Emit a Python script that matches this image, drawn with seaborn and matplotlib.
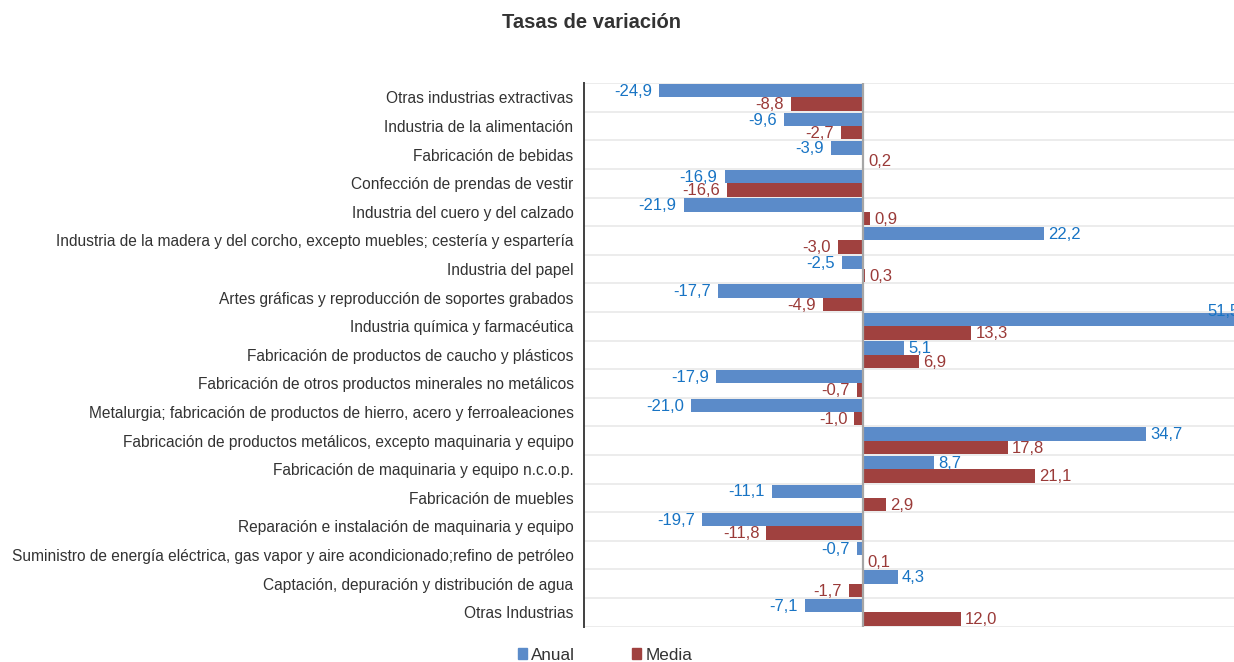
import matplotlib
matplotlib.use("Agg")
import matplotlib.pyplot as plt
import matplotlib.patches as mpatches
import seaborn as sns
import pandas as pd

categorias = [
    "Otras industrias extractivas",
    "Industria de la alimentación",
    "Fabricación de bebidas",
    "Confección de prendas de vestir",
    "Industria del cuero y del calzado",
    "Industria de la madera y del corcho, excepto muebles; cestería y espartería",
    "Industria del papel",
    "Artes gráficas y reproducción de soportes grabados",
    "Industria química y farmacéutica",
    "Fabricación de productos de caucho y plásticos",
    "Fabricación de otros productos minerales no metálicos",
    "Metalurgia; fabricación de productos de hierro, acero y ferroaleaciones",
    "Fabricación de productos metálicos, excepto maquinaria y equipo",
    "Fabricación de maquinaria y equipo n.c.o.p.",
    "Fabricación de muebles",
    "Reparación e instalación de maquinaria y equipo",
    "Suministro de energía eléctrica, gas vapor y aire acondicionado;refino de petróleo",
    "Captación, depuración y distribución de agua",
    "Otras Industrias",
]
anual = [-24.9, -9.6, -3.9, -16.9, -21.9, 22.2, -2.5, -17.7, 51.5, 5.1,
         -17.9, -21.0, 34.7, 8.7, -11.1, -19.7, -0.7, 4.3, -7.1]
media = [-8.8, -2.7, 0.2, -16.6, 0.9, -3.0, 0.3, -4.9, 13.3, 6.9,
         -0.7, -1.0, 17.8, 21.1, 2.9, -11.8, 0.1, -1.7, 12.0]
series = ["Anual", "Media"]

bar_colors = {"Anual": "#5B8BC9", "Media": "#A0413F"}
label_colors = {"Anual": "#1874C4", "Media": "#9A3A38"}
text_color = "#333333"

df = pd.DataFrame({
    "Sector": categorias * 2,
    "Serie": [series[0]] * len(categorias) + [series[1]] * len(categorias),
    "Valor": anual + media,
})

sns.set_theme(style="white")
plt.rcParams["font.family"] = ["Liberation Sans", "DejaVu Sans"]

fig = plt.figure(figsize=(12.34, 6.62), dpi=100)
ax = fig.add_axes([584 / 1234, 1 - 626.6 / 662, 1 - 584 / 1234, (626.6 - 83.1) / 662])

sns.barplot(data=df, y="Sector", x="Valor", hue="Serie", hue_order=series,
            palette=bar_colors, orient="h", width=0.935, saturation=1,
            linewidth=0, ax=ax, legend=False, zorder=2)

xmin, xmax = -34.1, 45.45
ax.set_xlim(xmin, xmax)
ax.set_ylim(len(categorias) - 0.5, -0.5)

# light separators between categories
for b in range(len(categorias) + 1):
    ax.axhline(b - 0.5, color="#EBEBEB", lw=1.3, zorder=0)
ax.axvline(0, color="#A6A6A6", lw=1.6, zorder=3)

ax.set_xlabel("")
ax.set_ylabel("")
ax.set_xticks([])
for side in ["top", "right", "bottom"]:
    ax.spines[side].set_visible(False)
ax.spines["left"].set_color("#404040")
ax.spines["left"].set_linewidth(1.4)
ax.tick_params(axis="y", length=0, pad=7.5, labelsize=11.2, labelcolor=text_color)

# value labels next to each bar end
vfs = 12
for cont, serie in zip(ax.containers, series):
    for patch in cont.patches:
        val = patch.get_width()
        yc = patch.get_y() + patch.get_height() / 2
        txt = f"{val:.1f}".replace(".", ",")
        if val > xmax:
            ax.annotate(txt, (xmax, patch.get_y()), xytext=(4, 1),
                        textcoords="offset points", ha="right", va="center",
                        fontsize=vfs, color=label_colors[serie],
                        annotation_clip=False, zorder=4)
        elif val >= 0:
            ax.annotate(txt, (val, yc), xytext=(3, -0.5), textcoords="offset points",
                        ha="left", va="center", fontsize=vfs,
                        color=label_colors[serie], zorder=4)
        else:
            ax.annotate(txt, (val, yc), xytext=(-5, -0.5), textcoords="offset points",
                        ha="right", va="center", fontsize=vfs,
                        color=label_colors[serie], zorder=4)

fig.suptitle("Tasas de variación", x=591 / 1234, y=1 - 22 / 662, va="center",
             fontsize=14.5, fontweight="bold", color=text_color)

handles = [mpatches.Patch(color=bar_colors[s], label=s) for s in series]
fig.legend(handles=handles, loc="center", bbox_to_anchor=(605 / 1234, 1 - 655 / 662),
           ncol=2, frameon=False, fontsize=12.3, handlelength=0.55, handleheight=0.55,
           handletextpad=0.25, columnspacing=3.3, labelcolor=text_color,
           borderpad=0, borderaxespad=0)

fig.savefig("out.png", dpi=100)
